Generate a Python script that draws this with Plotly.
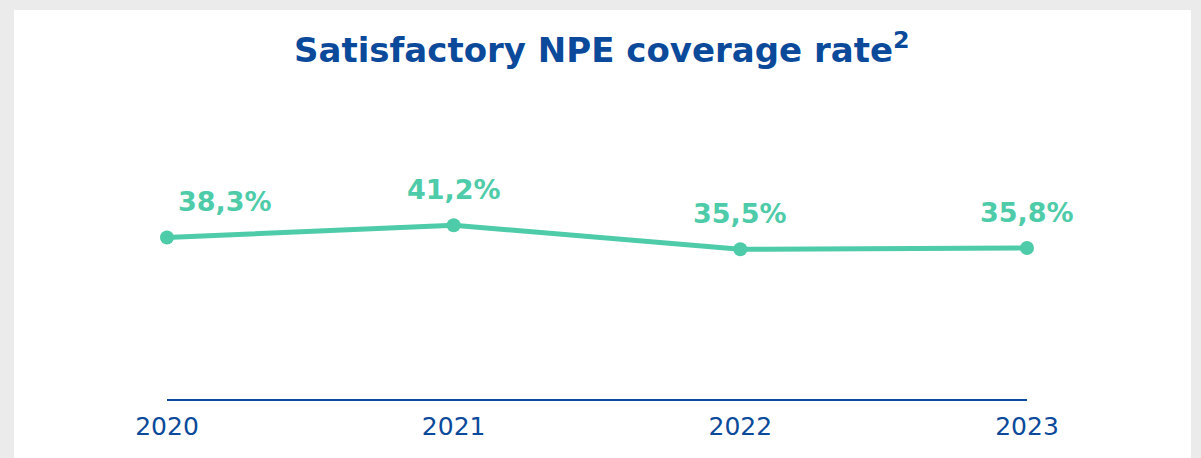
import plotly.graph_objects as go

years = [2020, 2021, 2022, 2023]
values = [38.3, 41.2, 35.5, 35.8]
labels = ["38,3%", "41,2%", "35,5%", "35,8%"]
label_xshift = [58, 0, 0, 0]

TEAL = "#4ecba8"
BLUE = "#0b4a9b"
FONT = "DejaVu Sans"

fig = go.Figure()
fig.add_trace(go.Scatter(
    x=years, y=values, mode="lines+markers",
    line=dict(color=TEAL, width=5),
    marker=dict(color=TEAL, size=14),
    cliponaxis=False, hoverinfo="skip", showlegend=False,
))

for x, v, t, xs in zip(years, values, labels, label_xshift):
    fig.add_annotation(x=x, y=v, text="<b>" + t + "</b>", showarrow=False,
                       xshift=xs, yshift=36, font=dict(family=FONT, size=27, color=TEAL))

fig.add_annotation(xref="paper", yref="paper", x=0.5, y=1, xanchor="center",
                   text="<b>Satisfactory NPE coverage rate<sup>2</sup></b>",
                   xshift=5, yshift=122, showarrow=False,
                   font=dict(family=FONT, size=34, color=BLUE))

fig.add_shape(type="rect", xref="paper", yref="paper", layer="below",
              x0=-153 / 860, x1=1024 / 860, y0=-1, y1=(448 - 59) / 253,
              fillcolor="white", line=dict(width=0))

fig.update_layout(
    width=1201, height=458,
    margin=dict(l=167, r=174, t=146, b=59),
    paper_bgcolor="#ebebeb", plot_bgcolor="rgba(0,0,0,0)",
    xaxis=dict(range=[2020, 2023], tickvals=years, ticktext=[str(y) for y in years],
               showgrid=False, zeroline=False, showline=True, linecolor=BLUE, linewidth=2,
               tickfont=dict(family=FONT, size=25, color=BLUE), ticks="", ticklabelstandoff=4),
    yaxis=dict(range=[0, 60], visible=False, showgrid=False, zeroline=False),
)

fig.write_html("out.html", config={"displayModeBar": False},
               post_script="document.body.style.margin='0';document.body.style.background='#ebebeb';")
